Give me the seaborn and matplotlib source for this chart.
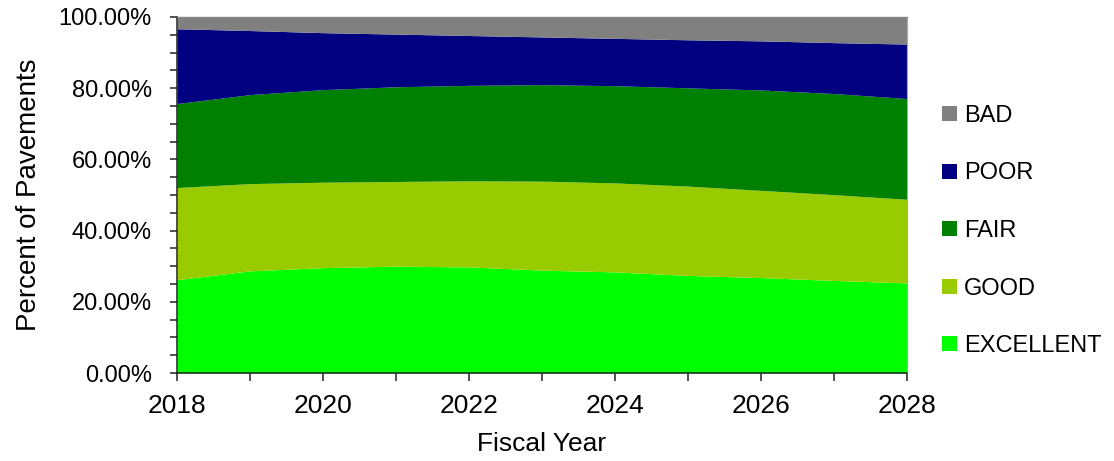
import numpy as np
import pandas as pd
import matplotlib
matplotlib.use("Agg")
import matplotlib.pyplot as plt
from matplotlib.patches import Patch
from matplotlib.ticker import PercentFormatter, MultipleLocator
import seaborn as sns

# Pavement condition shares by fiscal year (percent of pavements)
years = [2018, 2019, 2020, 2021, 2022, 2023, 2024, 2025, 2026, 2027, 2028]
excellent = [26.2, 28.7, 29.6, 30.0, 29.8, 28.9, 28.4, 27.4, 26.8, 26.0, 25.3]
good = [25.9, 24.5, 24.0, 23.8, 24.2, 25.0, 25.0, 25.1, 24.5, 24.1, 23.5]
fair = [23.6, 25.0, 26.0, 26.6, 26.8, 27.1, 27.3, 27.6, 28.2, 28.4, 28.3]
poor = [21.0, 18.0, 16.0, 14.8, 14.0, 13.4, 13.3, 13.5, 13.8, 14.3, 15.3]
bad = [3.3, 3.8, 4.4, 4.8, 5.2, 5.6, 6.0, 6.4, 6.7, 7.2, 7.6]

categories = ["EXCELLENT", "GOOD", "FAIR", "POOR", "BAD"]
palette = ["#00FF00", "#99CC00", "#008000", "#000080", "#808080"]

df = pd.DataFrame({"Fiscal Year": years, "EXCELLENT": excellent, "GOOD": good,
                   "FAIR": fair, "POOR": poor, "BAD": bad})

sns.set_theme(style="white", rc={"text.color": "black",
                                 "axes.labelcolor": "black",
                                 "xtick.color": "black",
                                 "ytick.color": "black"})
plt.rcParams["font.family"] = ["Liberation Sans", "DejaVu Sans"]

fig = plt.figure(figsize=(11.14, 4.61), dpi=100)
ax = fig.add_axes([177 / 1114, 1 - 373 / 461, 730 / 1114, 356 / 461])

ax.stackplot(df["Fiscal Year"], [df[c] for c in categories],
             colors=palette, linewidth=0)

ax.set_xlim(2018, 2028)
ax.set_ylim(0, 100)

ax.yaxis.set_major_locator(MultipleLocator(20))
ax.yaxis.set_minor_locator(MultipleLocator(5))
ax.yaxis.set_major_formatter(PercentFormatter(decimals=2))
ax.xaxis.set_major_locator(MultipleLocator(2))
ax.xaxis.set_minor_locator(MultipleLocator(1))

ax.tick_params(axis="y", which="both", direction="out", length=5, width=1.1,
               color="#222222", labelcolor="black", left=True,
               labelsize=17, pad=13)
ax.tick_params(axis="x", which="both", direction="out", length=6, width=1.1,
               color="#222222", labelcolor="black", bottom=True,
               labelsize=19, pad=9)

for side in ("left", "bottom"):
    ax.spines[side].set_color("#222222")
    ax.spines[side].set_linewidth(1.1)
ax.spines["top"].set_color("#888888")
ax.spines["top"].set_linewidth(1.0)
ax.spines["right"].set_color("#aaaaaa")
ax.spines["right"].set_linewidth(0.8)

ax.set_xlabel("Fiscal Year", fontsize=19, labelpad=10, color="black")
ax.set_ylabel("Percent of Pavements", fontsize=20, labelpad=12, color="black")

handles = [Patch(facecolor=c, edgecolor="none") for c in palette[::-1]]
leg = fig.legend(handles, categories[::-1], loc="center left",
                 bbox_to_anchor=(933 / 1114, 1 - 231 / 461), frameon=False,
                 fontsize=17, handlelength=0.6, handleheight=0.6,
                 handletextpad=0.3, labelspacing=1.51, borderaxespad=0)
for t in leg.get_texts():
    t.set_color("black")

fig.savefig("out.png", dpi=100)
